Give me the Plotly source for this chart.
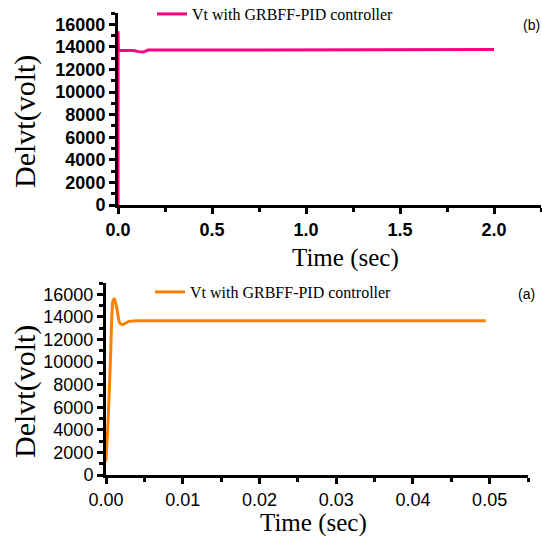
import plotly.graph_objects as go

# ---- data ----
t_b = [0, 0.0005, 0.002, 0.006, 0.03, 0.08, 0.11, 0.135, 0.16, 0.5, 1.0, 1.05, 1.5, 2.0]
v_b = [0, 15380, 13700, 13680, 13690, 13670, 13580, 13540, 13720, 13720, 13720, 13760, 13760, 13760]

t_a = [0, 0.0003, 0.0006, 0.0009, 0.0011, 0.0014, 0.0018, 0.0022, 0.003, 0.005,
       0.01, 0.02, 0.03, 0.04, 0.0495]
v_a = [1200, 5200, 10600, 15400, 15600, 14800, 13450, 13330, 13600, 13650,
       13650, 13650, 13660, 13660, 13660]

series_name = "Vt with GRBFF-PID controller"
x_ticks_b = [0, 0.5, 1.0, 1.5, 2.0]
x_ticks_a = [0, 0.01, 0.02, 0.03, 0.04, 0.05]
y_ticks = [0, 2000, 4000, 6000, 8000, 10000, 12000, 14000, 16000]

W, H = 542, 538
def px(x): return x / W
def py(y): return 1 - y / H

PINK = "rgb(255,0,128)"
ORANGE = "rgb(255,128,0)"
SERIF = "Liberation Serif"
SANS = "Liberation Sans"

fig = go.Figure()
fig.add_trace(go.Scatter(x=t_b, y=v_b, mode="lines", name=series_name,
                         line=dict(color=PINK, width=3), xaxis="x", yaxis="y",
                         legend="legend"))
fig.add_trace(go.Scatter(x=t_a, y=v_a, mode="lines", name=series_name,
                         line=dict(color=ORANGE, width=3, shape="spline", smoothing=0.6),
                         xaxis="x2", yaxis="y2", legend="legend2"))

axis_common = dict(showline=True, linecolor="black", linewidth=3, ticks="outside",
                   tickwidth=3, ticklen=6, tickcolor="black", showgrid=False,
                   zeroline=False, mirror=False, automargin=False)

fig.update_layout(
    width=W, height=H, margin=dict(l=0, r=0, t=0, b=0, autoexpand=False),
    paper_bgcolor="white", plot_bgcolor="white",
    xaxis=dict(domain=[px(118), px(541)], range=[0, 2.25], anchor="y",
               tickvals=x_ticks_b, tickformat=".1f",
               tickfont=dict(family=SANS, size=18, color="black", weight="bold"),
               minor=dict(dtick=0.25, ticks="outside", ticklen=4, tickwidth=3, tickcolor="black"),
               **axis_common),
    yaxis=dict(domain=[py(205), py(13)], range=[0, 17000], anchor="x",
               tickvals=y_ticks, tickformat="d",
               tickfont=dict(family=SANS, size=18, color="black", weight="bold"),
               minor=dict(dtick=1000, ticks="outside", ticklen=4, tickwidth=3, tickcolor="black"),
               **axis_common),
    xaxis2=dict(domain=[px(106), px(528)], range=[0, 0.055], anchor="y2",
                tickvals=x_ticks_a, tickformat=".2f",
                tickfont=dict(family=SANS, size=18, color="black"),
                minor=dict(dtick=0.005, ticks="outside", ticklen=4, tickwidth=3, tickcolor="black"),
                **axis_common),
    yaxis2=dict(domain=[py(475), py(283)], range=[0, 17000], anchor="x2",
                tickvals=y_ticks, tickformat="d",
                tickfont=dict(family=SANS, size=18, color="black"),
                minor=dict(dtick=1000, ticks="outside", ticklen=4, tickwidth=3, tickcolor="black"),
                **axis_common),
    legend=dict(x=px(152), y=py(14), xanchor="left", yanchor="middle",
                bgcolor="rgba(0,0,0,0)", font=dict(family=SERIF, size=16, color="black"),
                itemwidth=30),
    legend2=dict(x=px(150), y=py(292), xanchor="left", yanchor="middle",
                 bgcolor="rgba(0,0,0,0)", font=dict(family=SERIF, size=16, color="black"),
                 itemwidth=30),
    showlegend=True,
)

ann = [
    dict(text="Delvt(volt)", x=px(25), y=py(122), textangle=-90),
    dict(text="Delvt(volt)", x=px(25), y=py(392), textangle=-90),
]
for a in ann:
    fig.add_annotation(text=a["text"], x=a["x"], y=a["y"], xref="paper", yref="paper",
                       textangle=a["textangle"], showarrow=False, xanchor="center", yanchor="middle",
                       font=dict(family=SERIF, size=30, color="black"))
for txt, x, y in [("Time (sec)", px(345), py(258)), ("Time (sec)", px(313), py(523))]:
    fig.add_annotation(text=txt, x=x, y=y, xref="paper", yref="paper", showarrow=False,
                       xanchor="center", yanchor="middle",
                       font=dict(family=SERIF, size=25, color="black"))
fig.add_annotation(text="(b)", x=px(531), y=py(25), xref="paper", yref="paper", showarrow=False,
                   xanchor="center", yanchor="middle", font=dict(family=SANS, size=14, color="black"))
fig.add_annotation(text="(a)", x=px(526), y=py(294), xref="paper", yref="paper", showarrow=False,
                   xanchor="center", yanchor="middle", font=dict(family=SANS, size=14, color="black"))

fig.write_html("out.html", config={"displayModeBar": False},
               post_script="document.body.style.margin='0';document.body.style.overflow='hidden';")
